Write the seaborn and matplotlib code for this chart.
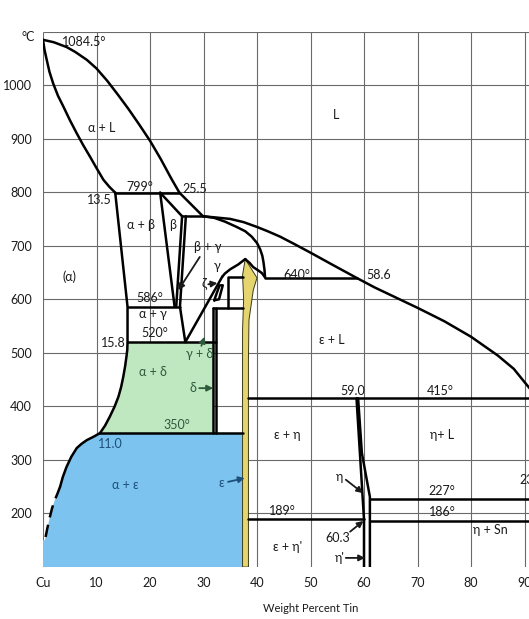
import numpy as np
import pandas as pd
import matplotlib
matplotlib.use("Agg")
import matplotlib.pyplot as plt
import seaborn as sns

# ---- Cu-Sn phase boundaries (wt% Sn, temperature in deg C) ----
liquidus_cu_w = [0, 2, 4.4, 6, 8.2, 10, 12, 14, 16, 18, 20, 22, 24, 25.5]
liquidus_cu_t = [1084.5, 1080, 1071, 1062, 1047, 1031, 1008, 982, 955, 926, 896, 862, 825, 799]

solidus_a_w = [0, 0.3, 0.7, 1.2, 1.9, 2.8, 3.8, 5.0, 6.3, 7.5, 8.8, 10.0, 11.3, 12.4, 13.5]
solidus_a_t = [1084.5, 1065, 1047, 1025, 1003, 980, 960, 935, 910, 888, 866, 845, 823, 810, 799]

liquidus_sn_w = [25.5, 29.9, 32, 35.0, 37.5, 40.0, 42.0, 44.3, 47, 50.0, 54, 58.6,
                 62, 66, 70, 75, 80, 85, 88, 89.7, 92.5]
liquidus_sn_t = [799, 755, 753, 750, 744, 735, 727, 717, 703, 687, 665, 640,
                 622, 603, 584, 559, 530, 495, 470, 449, 415]

solidus_g_w = [29.9, 32.0, 34.0, 36.2, 37.8, 39.0, 40.0, 40.6, 41.0, 41.2, 41.4, 41.5]
solidus_g_t = [755, 752, 745, 735, 727, 717, 705, 693, 681, 670, 655, 641]

alpha_bnd_w = [13.5, 15.8, 15.8, 15.75, 15.6, 15.35, 15.0, 14.6, 14.1, 13.4, 12.5, 11.6, 10.65]
alpha_bnd_t = [799, 586, 520, 505, 493, 475, 455, 436, 418, 400, 381, 364, 350]

solvus_w = [10.65, 9.4, 8.2, 7.2, 6.3, 5.3, 4.4, 3.7, 3.2]
solvus_t = [350, 343, 337, 330, 322, 306, 287, 268, 250]
solvus_dash_w = [3.2, 2.7, 2.2, 1.7, 1.3, 0.8, 0.37]
solvus_dash_t = [250, 237, 225, 210, 194, 172, 150]

beta_w = [[21.9, 24.6], [21.9, 26.0], [26.0, 24.9], [26.7, 25.6, 26.6]]
beta_t = [[799, 586], [799, 755], [755, 586], [755, 586, 520]]

gamma_right_w = [26.6, 33.5]
gamma_right_t = [520, 642]
gamma_arc_w = [33.5, 34.0, 35.0, 36.5, 37.8]
gamma_arc_t = [642, 648, 656, 665, 675]
eps_hook_w = [37.8, 38.6, 39.3, 40.2, 40.9, 41.5]
eps_hook_t = [675, 668, 660, 654, 649, 641]

delta_w = [[31.8, 31.8], [32.4, 32.4]]
delta_t = [[583, 350], [583, 350]]
zeta_w = [32.0, 32.9, 33.6, 33.0, 32.0]
zeta_t = [598, 600, 626, 626, 598]
box_w = [34.6, 34.6, 37.3]
box_t = [583, 642, 642]

eta_left_w = [58.6, 60.0, 60.0]
eta_left_t = [415, 189, 100]
eta_right_w = [58.9, 59.6, 61.1, 61.1]
eta_right_t = [415, 313, 231, 100]

# horizontal invariant lines: (temperature, from wt%, to wt%)
iso_t = [799, 755, 586, 520, 350, 583, 640, 415, 189, 227, 186]
iso_from = [13.5, 26.0, 15.8, 15.8, 10.65, 31.8, 41.5, 38.4, 38.4, 61.1, 61.1]
iso_to = [25.5, 29.9, 25.6, 32.4, 37.3, 37.3, 58.6, 100, 60.0, 100, 100]

# epsilon (Cu3Sn) band
eps_w = [37.3, 37.3, 37.5, 37.3, 37.8, 40.0, 39.3, 38.5, 38.4, 38.4]
eps_t = [100, 543, 600, 645, 675, 640, 617, 561, 487, 100]

# region fills
blue_w = solvus_w + solvus_dash_w[1:] + [0, 0, 37.3, 37.3]
blue_t = solvus_t + solvus_dash_t[1:] + [150, 100, 100, 350]
green_w = alpha_bnd_w[2:] + [31.8, 31.8]
green_t = alpha_bnd_t[2:] + [350, 520]

x_ticks = list(range(0, 100, 10))
x_tick_labels = ["Cu"] + [str(v) for v in range(10, 100, 10)]
y_ticks = list(range(200, 1100, 100))

# ---- build long-form table of boundary curves ----
curves = [
    (liquidus_cu_w, liquidus_cu_t), (solidus_a_w, solidus_a_t),
    (liquidus_sn_w, liquidus_sn_t), (solidus_g_w, solidus_g_t),
    (alpha_bnd_w, alpha_bnd_t), (solvus_w, solvus_t),
    (gamma_right_w, gamma_right_t), (gamma_arc_w, gamma_arc_t),
    (eps_hook_w, eps_hook_t), (zeta_w, zeta_t), (box_w, box_t),
    (eta_left_w, eta_left_t), (eta_right_w, eta_right_t),
]
curves += list(zip(beta_w, beta_t)) + list(zip(delta_w, delta_t))
curves += [([a, b], [t, t]) for t, a, b in zip(iso_t, iso_from, iso_to)]

rows = []
for cid, (ws, ts) in enumerate(curves):
    for k, (w, t) in enumerate(zip(ws, ts)):
        rows.append({"curve": cid, "order": k, "wt": w, "temp": t})
bounds = pd.DataFrame(rows)
dashed = pd.DataFrame({"curve": 0, "wt": solvus_dash_w, "temp": solvus_dash_t})

sns.set_theme(style="white")
plt.rcParams["font.family"] = ["Lato", "DejaVu Sans"]
plt.rcParams["mathtext.default"] = "regular"

fig = plt.figure(figsize=(5.29, 6.19), dpi=100)
ax = fig.add_axes([43 / 529, 52 / 619, 535 / 529, 535.5 / 619])
ax.set_xlim(0, 100)
ax.set_ylim(100, 1100)
for s in ax.spines.values():
    s.set_visible(False)

# grid
grid_c = "#6a6a6a"
ax.vlines(x_ticks, 100, 1100, color=grid_c, lw=0.8, zorder=1)
ax.hlines(y_ticks + [1100], 0, 100, color=grid_c, lw=0.8, zorder=1)

# region fills
ax.fill(blue_w, blue_t, color="#7cc3f0", lw=0, zorder=2)
ax.fill(green_w, green_t, color="#bfe8c0", lw=0, zorder=2)
ax.fill(eps_w, eps_t, facecolor="#e6d46e", edgecolor="#3a3a1a", lw=0.7, zorder=3)

# boundaries
sns.lineplot(data=bounds, x="wt", y="temp", units="curve", estimator=None,
             sort=False, color="black", lw=1.8, legend=False, ax=ax, zorder=4)
sns.lineplot(data=dashed, x="wt", y="temp", estimator=None, sort=False,
             color="black", lw=1.8, ax=ax, zorder=4, linestyle=(0, (5, 3)))

ax.set_xticks(x_ticks)
ax.set_xticklabels(x_tick_labels)
ax.set_yticks(y_ticks)
ax.set_yticklabels([str(v) for v in y_ticks])
ax.tick_params(axis="both", length=0, labelsize=9, colors="#1a1a1a")
ax.tick_params(axis="x", pad=7)
ax.tick_params(axis="y", pad=8)
ax.set_xlabel("Weight Percent Tin", fontsize=8, labelpad=10, color="#1a1a1a")
ax.set_ylabel("")
ax.text(-1.5, 1090, "°C", ha="right", va="center", fontsize=9, color="#1a1a1a")

fs = 9
dark = "#1a1a1a"
blue_txt = "#1d4f7a"
green_txt = "#2e5a3c"
labels = [
    (3.6, 1081, "1084.5°", dark, "left"), (11.0, 919, "α + L", dark, "center"),
    (54.8, 944, "L", dark, "center"), (18.1, 810, "799°", dark, "center"),
    (10.6, 785, "13.5", dark, "center"), (28.3, 806, "25.5", dark, "center"),
    (18.4, 739, "α + β", dark, "center"), (24.2, 739, "β", dark, "center"),
    (30.8, 697, "β + γ", dark, "center"), (32.6, 662, "γ", dark, "center"),
    (5.0, 642, "(α)", dark, "center"), (20.0, 603, "586°", dark, "center"),
    (20.6, 572, "α + γ", dark, "center"), (20.9, 537, "520°", dark, "center"),
    (13.2, 519, "15.8", dark, "center"), (47.5, 646, "640°", dark, "center"),
    (62.8, 646, "58.6", dark, "center"), (54.0, 524, "ε + L", dark, "center"),
    (57.9, 429, "59.0", dark, "center"), (74.3, 429, "415°", dark, "center"),
    (74.6, 347, "η+ L", dark, "center"), (45.6, 347, "ε + η", dark, "center"),
    (74.6, 242, "227°", dark, "center"), (74.6, 202, "186°", dark, "center"),
    (44.7, 205, "189°", dark, "center"), (45.8, 137, "ε + η'", dark, "center"),
    (83.6, 169, "η + Sn", dark, "center"), (89.0, 262, "232°", dark, "left"),
    (20.6, 465, "α + δ", green_txt, "center"), (25.0, 365, "350°", green_txt, "center"),
    (29.2, 497, "γ + δ", green_txt, "center"), (12.5, 330, "11.0", blue_txt, "center"),
    (15.3, 253, "α + ε", blue_txt, "center"),
]
for x, y, s, c, ha in labels:
    ax.text(x, y, s, ha=ha, va="center", fontsize=fs, color=c, zorder=6)

# labels with pointer arrows: (text x, y, label, head x, y, tail x, y, colour)
pointers = [
    (28.9, 682, "", 25.3, 617, 29.3, 679, dark),
    (30.0, 630, "ζ", 32.6, 630, 30.9, 628, dark),
    (28.0, 434, "δ", 31.8, 434, 29.2, 434, green_txt),
    (33.3, 256, "ε", 37.7, 266, 34.6, 259, blue_txt),
    (55.4, 268, "η", 59.8, 238, 56.6, 263, dark),
    (55.0, 154, "60.3", 59.9, 186, 57.4, 166, dark),
    (55.5, 117, "η'", 60.2, 117, 56.6, 117, dark),
    (29.5, 512, "", 30.2, 530, 29.6, 513, green_txt),
]
for tx, ty, s, hx, hy, ax0, ay0, c in pointers:
    if s:
        ax.text(tx, ty, s, ha="center", va="center", fontsize=fs, color=c, zorder=6)
    ax.annotate("", xy=(hx, hy), xytext=(ax0, ay0),
                arrowprops=dict(arrowstyle="-|>", color=c, lw=1.3,
                                mutation_scale=9, shrinkA=0, shrinkB=0),
                zorder=6)

fig.savefig("out.png", dpi=100, facecolor="white")
